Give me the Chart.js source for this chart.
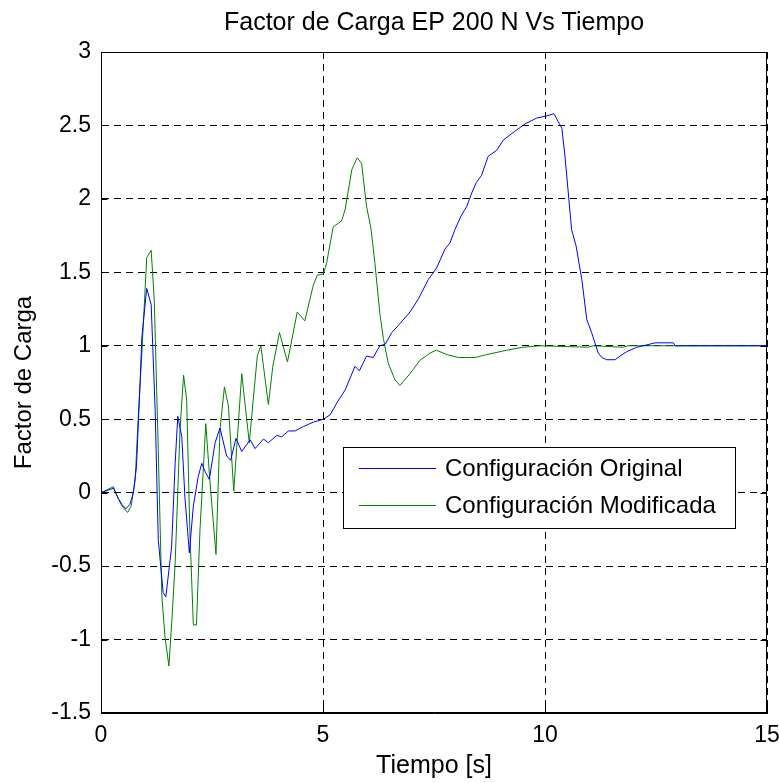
<!DOCTYPE html>
<html>
<head>
<meta charset="utf-8">
<script src="https://cdn.jsdelivr.net/npm/chart.js@4/dist/chart.umd.min.js"></script>
<style>
html,body{margin:0;padding:0;background:#fff;}
#wrap{width:779px;height:783px;}
</style>
</head>
<body>
<div id="wrap"><canvas id="c" width="779" height="783"></canvas></div>
<script>
// ---- Data ----
const chartTitle = 'Factor de Carga EP 200 N Vs Tiempo';
const xAxisTitle = 'Tiempo [s]';
const yAxisTitle = 'Factor de Carga';
const seriesNames = ['Configuración Original', 'Configuración Modificada'];

const xTickLabels = ['0', '5', '10', '15'];
const yTickLabels = ['-1.5', '-1', '-0.5', '0', '0.5', '1', '1.5', '2', '2.5', '3'];

const timeOriginal = [0, 0.28, 0.39, 0.47, 0.56, 0.65, 0.73, 0.80, 0.88, 0.92, 1.03, 1.13, 1.22, 1.29, 1.40, 1.46,
  1.59, 1.67, 1.73, 1.82, 1.89, 1.99, 2.08, 2.19, 2.27, 2.35, 2.44, 2.57, 2.68, 2.83, 2.92, 3.04, 3.17, 3.36,
  3.47, 3.66, 3.77, 3.96, 4.07, 4.22, 4.37, 4.56, 4.78, 5.01, 5.16, 5.31, 5.50, 5.61, 5.72, 5.82, 5.98, 6.13,
  6.28, 6.40, 6.55, 6.73, 6.96, 7.15, 7.37, 7.56, 7.75, 7.86, 7.97, 8.12, 8.24, 8.35, 8.45, 8.57, 8.72, 8.91,
  9.06, 9.32, 9.55, 9.81, 10.04, 10.20, 10.38, 10.45, 10.60, 10.70, 10.83, 10.94, 11.05, 11.20, 11.28, 11.39,
  11.58, 11.69, 11.84, 12.07, 12.21, 12.48, 12.89, 12.93, 15];
const valuesOriginal = [0, 0.03, -0.04, -0.08, -0.11, -0.08, 0.0, 0.18, 0.75, 1.06, 1.39, 1.28, 0.56, -0.32, -0.68, -0.71,
  -0.37, 0.20, 0.52, 0.38, -0.03, -0.41, -0.09, 0.11, 0.20, 0.14, 0.09, 0.34, 0.44, 0.25, 0.22, 0.37, 0.28, 0.36,
  0.30, 0.365, 0.34, 0.39, 0.38, 0.42, 0.42, 0.45, 0.48, 0.50, 0.53, 0.61, 0.70, 0.78, 0.86, 0.83, 0.93, 0.92,
  1.00, 1.01, 1.09, 1.15, 1.23, 1.32, 1.45, 1.53, 1.66, 1.70, 1.79, 1.89, 1.95, 2.04, 2.11, 2.16, 2.29, 2.33,
  2.40, 2.46, 2.51, 2.55, 2.565, 2.58, 2.48, 2.29, 1.79, 1.68, 1.45, 1.18, 1.09, 0.95, 0.92, 0.905,
  0.905, 0.93, 0.96, 0.99, 1.00, 1.02, 1.02, 1.00, 1.00];

const timeModified = [0, 0.28, 0.39, 0.47, 0.60, 0.68, 0.77, 0.84, 0.92, 1.03, 1.13, 1.20, 1.29, 1.37, 1.44, 1.53,
  1.60, 1.67, 1.78, 1.86, 1.93, 2.00, 2.08, 2.15, 2.23, 2.36, 2.45, 2.59, 2.68, 2.78, 2.87, 2.99, 3.17, 3.34,
  3.52, 3.60, 3.77, 3.87, 4.02, 4.20, 4.42, 4.59, 4.78, 4.87, 5.01, 5.08, 5.23, 5.42, 5.50, 5.65, 5.77, 5.87,
  5.98, 6.08, 6.17, 6.28, 6.36, 6.47, 6.62, 6.73, 6.96, 7.18, 7.41, 7.55, 7.79, 8.05, 8.42, 8.69, 9.14, 9.51,
  9.89, 10.97, 11.09, 11.76, 11.87, 15];
const valuesModified = [0, 0.04, -0.04, -0.09, -0.135, -0.09, 0.09, 0.52, 0.95, 1.60, 1.65, 1.31, 0.29, -0.70, -0.98, -1.18,
  -0.85, -0.48, 0.43, 0.80, 0.63, -0.25, -0.90, -0.90, -0.25, 0.47, 0.09, -0.42, 0.43, 0.72, 0.59, 0.01, 0.81, 0.34,
  0.93, 1.00, 0.60, 0.86, 1.09, 0.89, 1.23, 1.17, 1.41, 1.48, 1.49, 1.56, 1.81, 1.85, 1.93, 2.20, 2.28, 2.24,
  1.95, 1.80, 1.56, 1.22, 1.05, 0.88, 0.77, 0.73, 0.81, 0.90, 0.95, 0.97, 0.94, 0.92, 0.92, 0.94, 0.97, 0.99,
  1.00, 0.99, 1.00, 0.99, 1.00, 1.00];

// ---- Build chart ----
const FONT = "'Liberation Sans', Arial, Helvetica, sans-serif";
const toPoints = (xs, ys) => xs.map((x, i) => ({ x: x, y: ys[i] }));

const boxPlugin = {
  id: 'boxAndTicks',
  afterDatasetsDraw(chart) {
    const { ctx, chartArea: a, scales } = chart;
    ctx.save();
    ctx.strokeStyle = '#000';
    ctx.lineWidth = 1;
    ctx.setLineDash([]);
    const L = Math.round(a.left) + 0.5, R = Math.round(a.right) - 0.5;
    const T = Math.round(a.top) + 0.5, B = Math.round(a.bottom) - 0.5;
    ctx.strokeRect(L, T, R - L, B - T);
    const tl = 6;
    ctx.beginPath();
    scales.x.ticks.forEach(t => {
      const px = Math.round(scales.x.getPixelForValue(t.value)) + 0.5;
      ctx.moveTo(px, B); ctx.lineTo(px, B - tl);
      ctx.moveTo(px, T); ctx.lineTo(px, T + tl);
    });
    scales.y.ticks.forEach(t => {
      const py = Math.round(scales.y.getPixelForValue(t.value)) + 0.5;
      ctx.moveTo(L, py); ctx.lineTo(L + tl, py);
      ctx.moveTo(R, py); ctx.lineTo(R - tl, py);
    });
    ctx.stroke();

    // legend box (MATLAB style, inside the axes)
    const lg = chart.options.plugins.boxAndTicks;
    const x0 = a.left + lg.left, y0 = a.top + lg.top;
    ctx.fillStyle = '#fff';
    ctx.fillRect(x0, y0, lg.width, lg.height);
    ctx.strokeStyle = '#000';
    ctx.strokeRect(Math.round(x0) + 0.5, Math.round(y0) + 0.5, lg.width, lg.height);
    ctx.font = '24px ' + FONT;
    ctx.textBaseline = 'middle';
    ctx.textAlign = 'left';
    chart.data.datasets.forEach((ds, i) => {
      const yy = Math.round(y0 + lg.rowTop + i * lg.rowGap) + 0.5;
      ctx.strokeStyle = ds.borderColor;
      ctx.beginPath();
      ctx.moveTo(x0 + 16, yy); ctx.lineTo(x0 + 93, yy);
      ctx.stroke();
      ctx.fillStyle = '#000';
      ctx.fillText(ds.label, x0 + 102, yy + 1);
    });
    ctx.restore();
  }
};

new Chart(document.getElementById('c'), {
  type: 'line',
  data: {
    datasets: [
      { label: seriesNames[0], data: toPoints(timeOriginal, valuesOriginal), borderColor: '#0000ff', borderWidth: 1, pointRadius: 0, tension: 0, fill: false },
      { label: seriesNames[1], data: toPoints(timeModified, valuesModified), borderColor: '#008000', borderWidth: 1, pointRadius: 0, tension: 0, fill: false }
    ]
  },
  options: {
    responsive: false,
    animation: false,
    devicePixelRatio: 1,
    layout: { padding: { left: 0, right: 12, top: 0, bottom: 0 } },
    plugins: {
      legend: { display: false },
      tooltip: { enabled: false },
      title: {
        display: true, text: chartTitle, fullSize: false, color: '#000',
        font: { family: FONT, size: 25, weight: 'normal', lineHeight: 1.2 },
        padding: { top: 8, bottom: 14 }
      },
      boxAndTicks: { left: 242, top: 395, width: 392, height: 81, rowTop: 21, rowGap: 37 }
    },
    scales: {
      x: {
        type: 'linear', min: 0, max: 15,
        afterFit(s) { s.height = 70; s.paddingLeft = 0; s.paddingRight = 0; },
        ticks: { stepSize: 5, color: '#000', padding: 9, maxRotation: 0, font: { family: FONT, size: 23 },
          callback: (v, i) => xTickLabels[i] },
        grid: { color: '#000', lineWidth: 1, drawTicks: false },
        border: { display: true, color: '#000', dash: [7, 5] },
        title: { display: true, text: xAxisTitle, color: '#000', font: { family: FONT, size: 25 }, padding: { top: 0, bottom: 2 } }
      },
      y: {
        type: 'linear', min: -1.5, max: 3,
        afterFit(s) { s.width = 101; },
        ticks: { stepSize: 0.5, color: '#000', padding: 10, font: { family: FONT, size: 23 },
          callback: (v, i) => yTickLabels[i] },
        grid: { color: '#000', lineWidth: 1, drawTicks: false },
        border: { display: true, color: '#000', dash: [7, 5] },
        title: { display: true, text: yAxisTitle, color: '#000', font: { family: FONT, size: 24 }, padding: { top: 10, bottom: 0 } }
      }
    }
  },
  plugins: [boxPlugin]
});
</script>
</body>
</html>
